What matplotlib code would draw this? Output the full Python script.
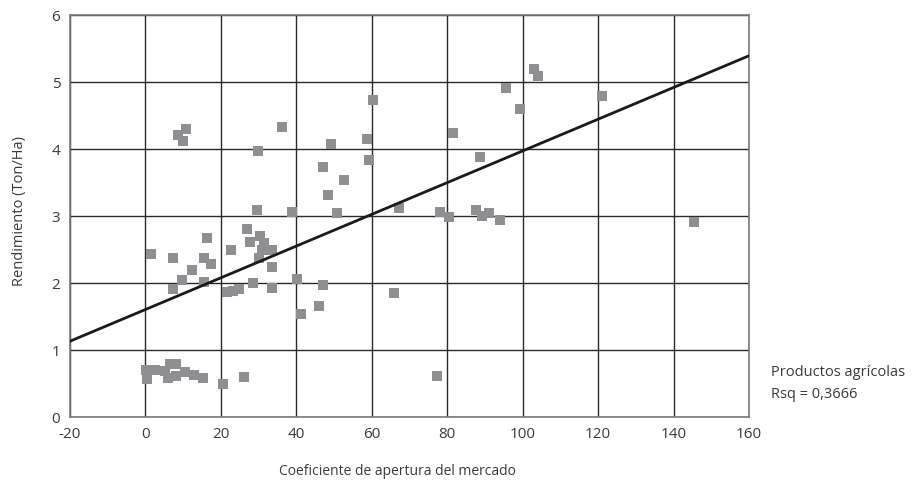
import matplotlib
matplotlib.use("Agg")
import matplotlib.pyplot as plt
import numpy as np

plt.rcParams['font.family'] = ['Open Sans', 'DejaVu Sans']
plt.rcParams['axes.unicode_minus'] = False

# Coeficiente de apertura del mercado (x) and Rendimiento (Ton/Ha) (y)
apertura = [0.2, 0.4, 2.5, 5.3, 6.1, 6.6, 8.0, 8.0, 10.5, 13.0, 15.2, 20.6, 26.1, 77.4,
            1.4, 7.4, 7.4, 9.6, 12.4, 16.2, 15.6, 17.3, 15.4, 22.6, 21.6, 23.2, 24.7,
            26.9, 27.6, 28.5, 30.4, 31.3, 30.8, 30.0, 33.6, 33.6, 33.6, 40.1, 41.3, 45.9,
            8.6, 10.8, 9.9, 36.2, 29.9, 29.5, 38.8,
            49.1, 47.2, 52.6, 48.5, 50.9, 60.3, 58.7, 59.2, 67.1, 78.1, 80.6, 81.6, 88.8,
            87.5, 89.1, 91.2, 94.1, 95.5, 99.2, 103.0, 104.0, 120.9, 145.3,
            47.2, 66.0]
rendimiento = [0.69, 0.57, 0.70, 0.68, 0.58, 0.79, 0.79, 0.61, 0.67, 0.62, 0.58, 0.49, 0.60, 0.61,
               2.43, 2.37, 1.90, 2.04, 2.19, 2.67, 2.37, 2.28, 2.01, 2.49, 1.86, 1.87, 1.90,
               2.80, 2.61, 1.99, 2.69, 2.59, 2.49, 2.37, 2.49, 2.23, 1.92, 2.06, 1.54, 1.65,
               4.20, 4.30, 4.11, 4.33, 3.97, 3.09, 3.06,
               4.07, 3.73, 3.54, 3.31, 3.04, 4.73, 4.15, 3.83, 3.12, 3.06, 2.98, 4.24, 3.88,
               3.09, 3.00, 3.04, 2.94, 4.90, 4.60, 5.19, 5.09, 4.78, 2.91,
               1.97, 1.85]

# Fitted regression line
fit_intercept = 1.60
fit_slope = 0.02367
x_range = [-20, 160]

x_ticks = [-20, 0, 20, 40, 60, 80, 100, 120, 140, 160]
y_ticks = [0, 1, 2, 3, 4, 5, 6]

fig = plt.figure(figsize=(9.13, 4.85), dpi=100)
ax = fig.add_axes([70/913, 1-417.7/485, (749-70)/913, (417.7-15.7)/485])

ax.set_xlim(-20, 160)
ax.set_ylim(0, 6)
ax.set_xticks(x_ticks)
ax.set_yticks(y_ticks)
ax.grid(True, color='#2a2a2a', linewidth=1.0)
ax.set_axisbelow(True)
for s in ax.spines.values():
    s.set_color('#7a7a7a')
    s.set_linewidth(1.2)
ax.tick_params(length=0, pad=7, labelsize=11, colors='#3a3a3a')

ax.scatter(apertura, rendimiento, marker='s', s=42, color='#8f8f93', zorder=3, linewidths=0)

xs = np.array(x_range, dtype=float)
ax.plot(xs, fit_intercept + fit_slope * xs, color='#1a1a1a', linewidth=2.0, zorder=4)

fig.text(397/913, 1-472/485, 'Coeficiente de apertura del mercado', fontsize=10, color='#3a3a3a',
         ha='center', va='center')
fig.text(20/913, 1-211/485, 'Rendimiento (Ton/Ha)', fontsize=10.5, color='#3a3a3a',
         ha='center', va='center', rotation=90)

fig.text(771/913, 1-372/485, 'Productos agrícolas', fontsize=10.5, color='#3a3a3a', va='center', ha='left')
fig.text(771/913, 1-395/485, 'Rsq = 0,3666', fontsize=10.5, color='#3a3a3a', va='center', ha='left')

fig.savefig('out.png', dpi=100)
